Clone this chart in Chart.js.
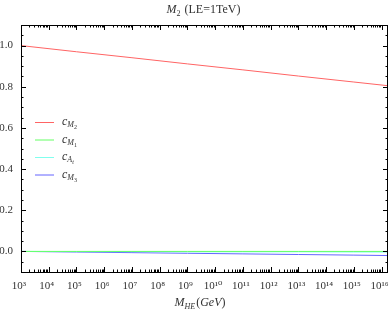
<!DOCTYPE html>
<html>
<head>
<meta charset="utf-8">
<script src="https://cdn.jsdelivr.net/npm/chart.js@4"></script>
<style>
  html, body { margin: 0; padding: 0; background: #fff; }
  #wrap { width: 390px; height: 309px; }
</style>
</head>
<body>
<div id="wrap"><canvas id="c" width="390" height="309"></canvas></div>
<script>
// energy scale (GeV), log axis
const scales = [1e3, 1e5, 1e7, 1e9, 1e11, 1e13, 1e15, 1.7e16];
const cM2 = [1.0, 0.970, 0.941, 0.911, 0.882, 0.852, 0.823, 0.805];
const cM1 = [0.0, 0.0, 0.0, 0.0, 0.0, 0.0, 0.0, 0.0];
const cAt = [0.0, -0.001, -0.001, -0.002, -0.002, -0.002, -0.003, -0.003];
const cM3 = [0.0, -0.003, -0.006, -0.009, -0.012, -0.015, -0.018, -0.02];
const yTicks = [0.0, 0.2, 0.4, 0.6, 0.8, 1.0];
const xDecades = [3, 4, 5, 6, 7, 8, 9, 10, 11, 12, 13, 14, 15, 16];

const SERIF = '"Liberation Serif", "DejaVu Serif", serif';
const TXT = '#333';

const series = [
  { sub: 'M', sub2: '2', data: cM2, color: '#ff6464' },
  { sub: 'M', sub2: '1', data: cM1, color: '#64ff64' },
  { sub: 'A', sub2: 't', data: cAt, color: '#80ffee' },
  { sub: 'M', sub2: '3', data: cM3, color: '#6464ff' },
];

const supDigits = { '0': '⁰', '1': '¹', '2': '²', '3': '³', '4': '⁴', '5': '⁵', '6': '⁶', '7': '⁷', '8': '⁸', '9': '⁹' };
const sup = n => String(n).split('').map(d => supDigits[d]).join('');

// draws frame, inward ticks, labels, title and legend
const decor = {
  id: 'decor',
  afterDraw(chart) {
    const ctx = chart.ctx;
    const a = chart.chartArea;
    const xs = chart.scales.x, ys = chart.scales.y;
    ctx.save();
    ctx.strokeStyle = '#000';
    ctx.lineWidth = 1;
    ctx.strokeRect(a.left + 0.5, a.top + 0.5, a.right - a.left - 1, a.bottom - a.top);

    // x ticks
    ctx.beginPath();
    xDecades.forEach(d => {
      for (let m = 1; m <= 9; m++) {
        const val = m * Math.pow(10, d);
        if (val > xs.max) break;
        const px = Math.round(xs.getPixelForValue(val)) + 0.5;
        const len = m === 1 ? 5 : 2.5;
        ctx.moveTo(px, a.bottom); ctx.lineTo(px, a.bottom - len);
        ctx.moveTo(px, a.top); ctx.lineTo(px, a.top + len);
      }
    });
    // y ticks
    for (let k = -2; k <= 22; k++) {
      const vv = k * 0.05;
      const py = Math.round(ys.getPixelForValue(vv)) + 0.5;
      const len = k % 4 === 0 ? 5 : 2.5;
      ctx.moveTo(a.left, py); ctx.lineTo(a.left + len, py);
      ctx.moveTo(a.right, py); ctx.lineTo(a.right - len, py);
    }
    ctx.stroke();

    ctx.fillStyle = TXT;
    ctx.font = '11px ' + SERIF;
    ctx.textAlign = 'right';
    ctx.textBaseline = 'middle';
    yTicks.forEach(v => ctx.fillText(v.toFixed(1), a.left - 8, ys.getPixelForValue(v)));

    ctx.textAlign = 'center';
    ctx.textBaseline = 'alphabetic';
    xDecades.forEach(d => {
      const px = xs.getPixelForValue(Math.pow(10, d));
      ctx.fillText('10' + sup(d), px - 2, a.bottom + 17);
    });

    // axis title M_HE(GeV)
    const tx = (a.left + a.right) / 2 - 30;
    const ty = a.bottom + 34;
    ctx.textAlign = 'left';
    ctx.font = 'italic 12px ' + SERIF;
    ctx.fillText('M', tx, ty);
    let w = ctx.measureText('M').width;
    ctx.font = 'italic 8px ' + SERIF;
    ctx.fillText('HE', tx + w, ty + 3);
    w += ctx.measureText('HE').width + 1;
    ctx.font = '12px ' + SERIF;
    ctx.fillText('(', tx + w, ty);
    w += ctx.measureText('(').width;
    ctx.font = 'italic 12px ' + SERIF;
    ctx.fillText('GeV', tx + w, ty);
    w += ctx.measureText('GeV').width;
    ctx.font = '12px ' + SERIF;
    ctx.fillText(')', tx + w, ty);

    // title
    const ttx = (a.left + a.right) / 2 - 38;
    const tty = 13;
    ctx.font = 'italic 12px ' + SERIF;
    ctx.fillText('M', ttx, tty);
    w = ctx.measureText('M').width;
    ctx.font = '8px ' + SERIF;
    ctx.fillText('2', ttx + w, tty + 3);
    w += ctx.measureText('2').width + 4;
    ctx.font = '12px ' + SERIF;
    ctx.fillText('(LE=1TeV)', ttx + w, tty);

    // legend
    series.forEach((s, i) => {
      const ly = 122 + i * 17.5;
      ctx.strokeStyle = s.color;
      ctx.lineWidth = 1;
      ctx.beginPath();
      ctx.moveTo(35, ly + 0.5); ctx.lineTo(54, ly + 0.5);
      ctx.stroke();
      ctx.fillStyle = TXT;
      ctx.font = 'italic 12px ' + SERIF;
      ctx.fillText('c', 62, ly + 3);
      let lw = 62 + ctx.measureText('c').width;
      ctx.font = 'italic 8px ' + SERIF;
      ctx.fillText(s.sub, lw, ly + 5);
      lw += ctx.measureText(s.sub).width;
      ctx.font = (s.sub2 === 't' ? 'italic ' : '') + '6px ' + SERIF;
      ctx.fillText(s.sub2, lw, ly + 7);
    });
    ctx.restore();
  }
};

new Chart(document.getElementById('c'), {
  type: 'line',
  data: {
    labels: scales,
    datasets: series.map(s => ({
      label: 'c' + s.sub + s.sub2,
      data: scales.map((x, i) => ({ x: x, y: s.data[i] })),
      borderColor: s.color,
      borderWidth: 1,
      pointRadius: 0,
      fill: false,
      tension: 0
    }))
  },
  options: {
    responsive: false,
    animation: false,
    layout: { padding: { left: 21, right: 2, top: 25, bottom: 37 } },
    plugins: { legend: { display: false }, tooltip: { enabled: false } },
    scales: {
      x: { type: 'logarithmic', min: 1e3, max: 1.7e16, display: false },
      y: { type: 'linear', min: -0.1, max: 1.1, display: false }
    }
  },
  plugins: [decor]
});
</script>
</body>
</html>
